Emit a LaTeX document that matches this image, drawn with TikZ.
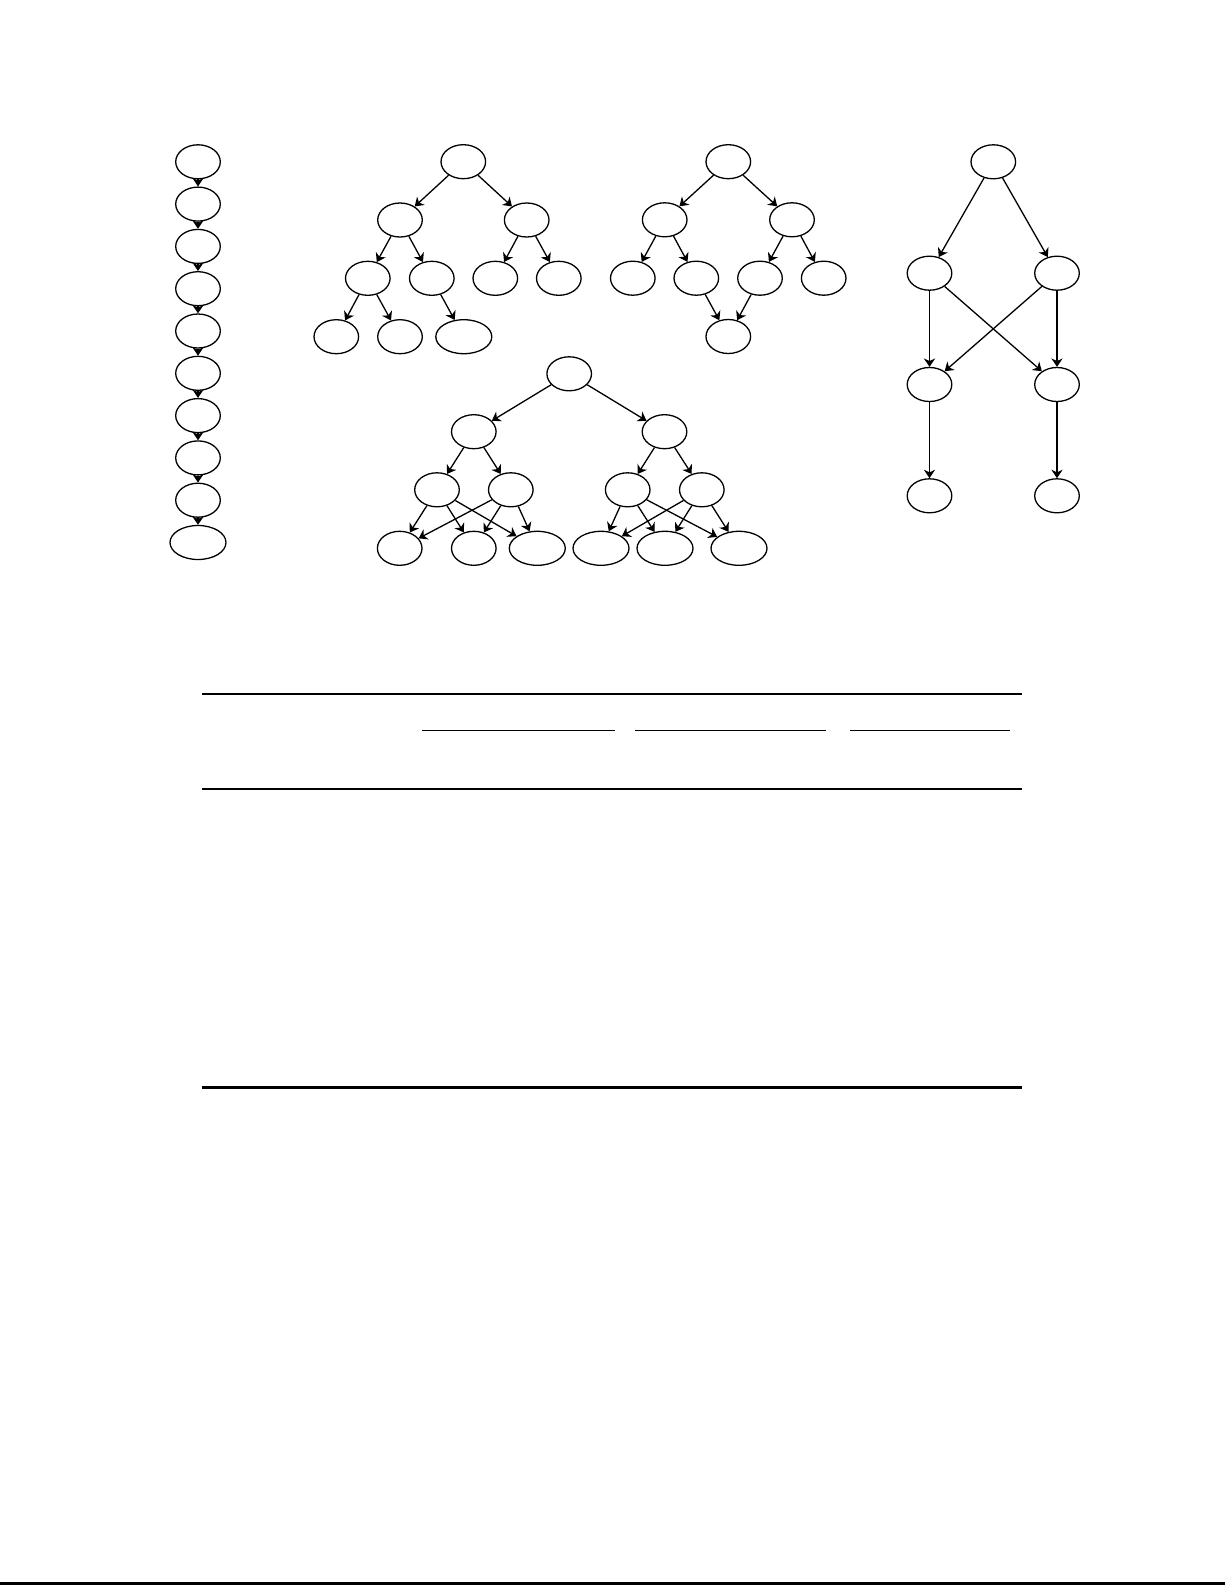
\documentclass[tikz,border=0pt]{standalone}
\usetikzlibrary{shapes.geometric,arrows.meta}
\tikzset{
  nd/.style={ellipse,draw,line width=0.65pt,inner sep=0pt,minimum width=22.3pt,minimum height=17pt},
  wd/.style={nd,minimum width=28pt},
  ed/.style={line width=0.65pt,-{Stealth[length=4.2pt,width=5.6pt,inset=1.3pt]}},
  rulethick/.style={line width=1.35pt},
  rulemid/.style={line width=1pt},
  ruleshort/.style={line width=0.8pt}
}
\begin{document}
\begin{tikzpicture}[x=0.5pt,y=-0.5pt]
\useasboundingbox (0,0) rectangle (1225,1585);
% chain
\foreach \i in {0,...,8}{
  \node[nd] (c\i) at (198,{161.8+42.3*\i}) {};
}
\node[wd] (c9) at (198,542.5) {};
\foreach \i/\j in {0/1,1/2,2/3,3/4,4/5,5/6,6/7,7/8,8/9}{
  \draw[ed] (c\i) -- (c\j);
}
% tree 1
\node[nd] (t1r) at (463.3,161.7) {};
\node[nd] (t1a) at (400,220) {};
\node[nd] (t1b) at (526.7,220) {};
\node[nd] (t1aa) at (367.8,278.3) {};
\node[nd] (t1ab) at (431.8,278.3) {};
\node[nd] (t1ba) at (495.3,278.3) {};
\node[nd] (t1bb) at (558.8,278.3) {};
\node[nd] (t1aaa) at (336.3,336.7) {};
\node[nd] (t1aab) at (400,336.7) {};
\node[wd] (t1aba) at (463.8,336.7) {};
\draw[ed] (t1r) -- (t1a);
\draw[ed] (t1r) -- (t1b);
\draw[ed] (t1a) -- (t1aa);
\draw[ed] (t1a) -- (t1ab);
\draw[ed] (t1b) -- (t1ba);
\draw[ed] (t1b) -- (t1bb);
\draw[ed] (t1aa) -- (t1aaa);
\draw[ed] (t1aa) -- (t1aab);
\draw[ed] (t1ab) -- (t1aba);
% tree 2
\node[nd] (t2r) at (728.3,161.7) {};
\node[nd] (t2a) at (664.7,219.8) {};
\node[nd] (t2b) at (792,219.8) {};
\node[nd] (t2aa) at (632.8,278.2) {};
\node[nd] (t2ab) at (696.3,278.2) {};
\node[nd] (t2ba) at (760,278.2) {};
\node[nd] (t2bb) at (823.7,278.2) {};
\node[nd] (t2x) at (728.3,336.5) {};
\draw[ed] (t2r) -- (t2a);
\draw[ed] (t2r) -- (t2b);
\draw[ed] (t2a) -- (t2aa);
\draw[ed] (t2a) -- (t2ab);
\draw[ed] (t2b) -- (t2ba);
\draw[ed] (t2b) -- (t2bb);
\draw[ed] (t2ab) -- (t2x);
\draw[ed] (t2ba) -- (t2x);
% tree 3
\node[nd] (t3r) at (569.2,373.8) {};
\node[nd] (t3a) at (473.8,431.7) {};
\node[nd] (t3b) at (664.5,431.7) {};
\node[nd] (t3aa) at (437,489.8) {};
\node[nd] (t3ab) at (510.8,489.8) {};
\node[nd] (t3ba) at (627.7,489.8) {};
\node[nd] (t3bb) at (701.8,489.8) {};
\node[nd] (t3l1) at (399.7,548.3) {};
\node[nd] (t3l2) at (473.8,548.3) {};
\node[wd] (t3l3) at (537.3,548.3) {};
\node[wd] (t3l4) at (601,548.3) {};
\node[wd] (t3l5) at (665,548.3) {};
\node[wd] (t3l6) at (739,548.3) {};
\draw[ed] (t3r) -- (t3a);
\draw[ed] (t3r) -- (t3b);
\draw[ed] (t3a) -- (t3aa);
\draw[ed] (t3a) -- (t3ab);
\draw[ed] (t3b) -- (t3ba);
\draw[ed] (t3b) -- (t3bb);
\foreach \p in {t3aa,t3ab}{
  \foreach \q in {t3l1,t3l2,t3l3}{ \draw[ed] (\p) -- (\q); }
}
\foreach \p in {t3ba,t3bb}{
  \foreach \q in {t3l4,t3l5,t3l6}{ \draw[ed] (\p) -- (\q); }
}
% DAG
\node[nd] (d0) at (993.3,161.8) {};
\node[nd] (d1l) at (929.5,273.2) {};
\node[nd] (d1r) at (1057,273.2) {};
\node[nd] (d2l) at (929.5,384.5) {};
\node[nd] (d2r) at (1057,384.5) {};
\node[nd] (d3l) at (929.5,495.8) {};
\node[nd] (d3r) at (1057,495.8) {};
\draw[ed] (d0) -- (d1l);
\draw[ed] (d0) -- (d1r);
\draw[ed] (d1l) -- (d2l);
\draw[ed] (d1l) -- (d2r);
\draw[ed] (d1r) -- (d2l);
\draw[ed] (d1r) -- (d2r);
\draw[ed] (d2l) -- (d3l);
\draw[ed] (d2r) -- (d3r);
% table rules
\draw[rulethick] (202,694) -- (1022,694);
\draw[ruleshort] (422,730.3) -- (615,730.3);
\draw[ruleshort] (635,730.3) -- (826,730.3);
\draw[ruleshort] (850,730.3) -- (1010,730.3);
\draw[rulemid] (202,789) -- (1022,789);
\draw[rulethick] (202,1087.7) -- (1022,1087.7);
% page bottom line
\draw[line width=1.2pt] (0,1583.5) -- (1225,1583.5);
\end{tikzpicture}
\end{document}
